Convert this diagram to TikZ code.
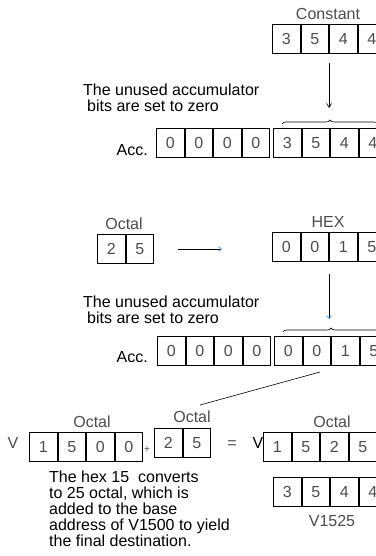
\documentclass[tikz,border=0pt]{standalone}
\usepackage{fontspec}
\setmainfont{Liberation Sans}
\usetikzlibrary{arrows.meta,matrix,positioning,decorations.pathreplacing}
\definecolor{tipblue}{RGB}{40,150,240}

\begin{document}
\begin{tikzpicture}[
    x=1pt, y=-1pt,
    font=\fontsize{16}{16}\selectfont,
    digitrow/.style={matrix of nodes, anchor=north west, column sep=0pt,
                  inner sep=0pt, outer sep=0pt,
                  nodes={draw, line width=0.8pt, minimum width=27.75pt,
                         minimum height=29pt, inner sep=0pt, outer sep=0pt,
                         text=black!70}},
    lbl/.style={anchor=base, inner sep=0pt, text=black!70},
    note/.style={anchor=base west, inner sep=0pt, align=left},
    arrow/.style={-{Straight Barb[length=4pt,width=5pt]}, semithick},
    bluearrow/.style={-{Straight Barb[length=3pt,width=5pt,color=tipblue]}, semithick},
    brace/.style={decorate, decoration={brace, amplitude=4pt}, semithick}
]
\useasboundingbox (0,0) rectangle (375,556);

\matrix[digitrow] (const) at (272,24) {3 & 5 & 4 & 4\\};
\node[lbl] (constlbl) at (328,20) {Constant};
\node[note] (unused1) at (83,112)
    {The unused accumulator\\\hspace*{4pt}bits are set to zero};
\matrix[digitrow] (acc1a) at (156,128) {0 & 0 & 0 & 0\\};
\matrix[digitrow] (acc1b) at (273,128) {3 & 5 & 4 & 4\\};
\node[note, anchor=base east] (acc1lbl) at (148,156) {Acc.};
\draw[brace] ([xshift=9pt,yshift=4pt]acc1b.north west)
    -- ([xshift=-9pt,yshift=4pt]acc1b.north east);
\draw[arrow, shorten <=9pt, shorten >=20pt] (const.south) -- (const.south |- acc1b.north);

\matrix[digitrow] (oct) at (97,234) {2 & 5\\};
\node[lbl] (octlbl) at (124,229) {Octal};
\matrix[digitrow] (hex) at (272,232) {0 & 0 & 1 & 5\\};
\node[lbl] (hexlbl) at (328,227) {HEX};
\draw[bluearrow, shorten <=24pt, shorten >=50pt] (oct.east) -- (oct.east -| hex.west);
\node[note] (unused2) at (83,323)
    {The unused accumulator\\\hspace*{4pt}bits are set to zero};
\matrix[digitrow] (acc2a) at (157,336) {0 & 0 & 0 & 0\\};
\matrix[digitrow] (acc2b) at (274,336) {0 & 0 & 1 & 5\\};
\node[note, anchor=base east] (acc2lbl) at (148,362) {Acc.};
\draw[brace] ([xshift=9pt,yshift=4pt]acc2b.north west)
    -- ([xshift=-9pt,yshift=4pt]acc2b.north east);
\draw[bluearrow, shorten <=12pt, shorten >=17pt] (hex.south) -- (hex.south |- acc2b.north);

\coordinate (hexsrc) at (320,372);
\coordinate (octdst) at (200,405);
\draw[semithick] (hexsrc) -- (octdst);

\node[lbl] (v1) at (13,448) {V};
\matrix[digitrow] (base) at (29,432) {1 & 5 & 0 & 0\\};
\node[lbl] (baselbl) at (92,427) {Octal};
\node[lbl, font=\fontsize{10}{10}\selectfont] (plus) at (147,452) {+};
\matrix[digitrow] (offs) at (154,428) {2 & 5\\};
\node[lbl] (offslbl) at (192,422) {Octal};
\node[lbl] (eq) at (232,448) {=};
\node[lbl, text=black] (v2) at (258,448) {V};
\matrix[digitrow] (dest) at (263,432) {1 & 5 & 2 & 5\\};
\node[lbl] (destlbl) at (332,427) {Octal};
\matrix[digitrow] (val) at (273,477) {3 & 5 & 4 & 4\\};
\node[lbl] (vallbl) at (332,526) {V1525};
\node[note] (expl) at (49,546)
    {The hex 15~ converts\\to 25 octal, which is\\added to the base\\address of V1500 to yield\\the final destination.};
\end{tikzpicture}
\end{document}
